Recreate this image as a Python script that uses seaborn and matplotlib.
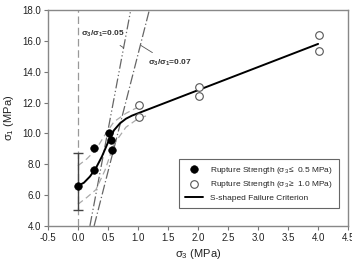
import matplotlib
matplotlib.use("Agg")
import matplotlib.pyplot as plt
import seaborn as sns
import numpy as np

sns.set_theme(style="ticks")
plt.rcParams["font.family"] = ["Liberation Sans", "DejaVu Sans"]
plt.rcParams["mathtext.fontset"] = "custom"
plt.rcParams["mathtext.rm"] = "Liberation Sans"
plt.rcParams["mathtext.it"] = "Liberation Sans"

# rupture strength, low confining pressure (filled)
low_s3 = [0.0, 0.27, 0.27, 0.52, 0.55, 0.57]
low_s1 = [6.6, 7.6, 9.05, 10.05, 9.6, 8.9]

# rupture strength, high confining pressure (open)
high_s3 = [1.02, 1.02, 2.02, 2.02, 4.02, 4.02]
high_s1 = [11.85, 11.05, 13.0, 12.4, 16.4, 15.35]

# error bar on the unconfined point
err_x = 0.0
err_mid = 6.6
err_low = 5.05
err_high = 8.7

# S-shaped failure criterion
curve_s3 = [0.0, 0.1, 0.2, 0.3, 0.4, 0.5, 0.6, 0.7, 0.8, 0.9, 1.0, 1.5, 2.0, 3.0, 4.0]
curve_s1 = [6.6, 6.8, 7.2, 7.75, 8.5, 9.4, 10.2, 10.65, 10.95, 11.15, 11.3, 12.05, 12.8, 14.3, 15.8]

# dashed bands around the curve
upper_s3 = [0.0, 0.15, 0.3, 0.45, 0.6, 0.8, 1.0]
upper_s1 = [7.9, 8.35, 8.95, 9.9, 10.75, 11.3, 11.7]
lower_s3 = [0.0, 0.15, 0.3, 0.45, 0.6, 0.8, 1.0, 1.15]
lower_s1 = [5.4, 5.85, 6.35, 7.6, 9.3, 10.4, 10.95, 11.15]

# stress ratio lines
r05_s3 = [0.2, 0.88]
r05_s1 = [4.0, 18.0]
r07_s3 = [0.27, 1.19]
r07_s1 = [4.0, 18.0]

fig = plt.figure(figsize=(3.52, 2.63), dpi=100)
ax = fig.add_axes([0.136, 0.141, 0.853, 0.821])

ax.axvline(0, color="#999999", lw=0.9, ls=(0, (6, 3)), zorder=1)
ax.plot(r05_s3, r05_s1, color="#666666", lw=0.9, ls=(0, (8, 2, 1, 2, 1, 2)), zorder=1)
ax.plot(r07_s3, r07_s1, color="#666666", lw=0.9, ls=(0, (8, 2, 1, 2)), zorder=1)
ax.plot(upper_s3, upper_s1, color="#aaaaaa", lw=0.9, ls=(0, (5, 3)), zorder=1)
ax.plot(lower_s3, lower_s1, color="#aaaaaa", lw=0.9, ls=(0, (5, 3)), zorder=1)

ax.errorbar([err_x], [err_mid], yerr=[[err_mid - err_low], [err_high - err_mid]],
            fmt="none", ecolor="#444444", elinewidth=1.0, capsize=3.5, capthick=1.0, zorder=2)

sns.lineplot(x=curve_s3, y=curve_s1, ax=ax, color="black", lw=1.4,
             label="S-shaped Failure Criterion", zorder=3, sort=False)
sns.scatterplot(x=low_s3, y=low_s1, ax=ax, color="black", s=30, edgecolor="black",
                label=r"Rupture Strength ($\mathregular{\sigma_3}$$\leq$ 0.5 MPa)", zorder=4)
sns.scatterplot(x=high_s3, y=high_s1, ax=ax, color="white", s=30, edgecolor="#555555",
                linewidth=0.8,
                label=r"Rupture Strength ($\mathregular{\sigma_3}$$\geq$ 1.0 MPa)", zorder=4)

ax.annotate(r"$\mathregular{\sigma_3/\sigma_1}$=0.05", xy=(0.76, 15.55), xytext=(0.42, 16.45),
            ha="center", va="center", fontsize=6, fontweight="bold", color="#333333",
            arrowprops=dict(arrowstyle="-", color="#555555", lw=0.6, shrinkA=4, shrinkB=0))
ax.annotate(r"$\mathregular{\sigma_3/\sigma_1}$=0.07", xy=(1.05, 15.7), xytext=(1.16, 14.55),
            ha="left", va="center", fontsize=6, fontweight="bold", color="#333333",
            arrowprops=dict(arrowstyle="-", color="#555555", lw=0.6, shrinkA=3, shrinkB=0))

ax.set_xlim(-0.5, 4.5)
ax.set_ylim(4.0, 18.0)
xt = np.arange(-0.5, 4.51, 0.5)
yt = np.arange(4.0, 18.01, 2.0)
ax.set_xticks(xt)
ax.set_xticklabels([f"{v:.1f}" for v in xt])
ax.set_yticks(yt)
ax.set_yticklabels([f"{v:.1f}" for v in yt])
ax.tick_params(labelsize=7, length=3, width=0.8, color="#777777", labelcolor="#222222", pad=2)
for sp in ax.spines.values():
    sp.set_color("#888888")
    sp.set_linewidth(1.0)

ax.set_xlabel(r"$\mathregular{\sigma_3}$ (MPa)", fontsize=8, color="#222222", labelpad=3)
ax.set_ylabel(r"$\mathregular{\sigma_1}$ (MPa)", fontsize=8, color="#222222", labelpad=4)

h, l = ax.get_legend_handles_labels()
order = [1, 2, 0]
leg = ax.legend([h[i] for i in order], [l[i] for i in order], loc="lower right",
                bbox_to_anchor=(0.982, 0.065), fontsize=6, frameon=True, fancybox=False,
                edgecolor="#666666", framealpha=1, borderpad=0.7, labelspacing=0.45,
                handlelength=2.2, handletextpad=0.8)
leg.get_frame().set_linewidth(0.8)

fig.savefig("out.png", dpi=100)
